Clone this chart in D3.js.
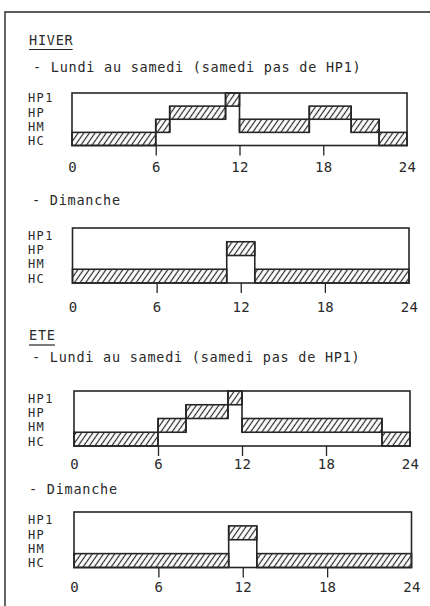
<!DOCTYPE html>
<html><head><meta charset="utf-8">
<script src="https://cdn.jsdelivr.net/npm/d3@7"></script>
<style>
html,body{margin:0;padding:0;background:#fff;}
svg{display:block;}
text{font-family:"DejaVu Sans Mono",monospace;fill:#2a2a2a;}
</style></head>
<body>
<svg id="c" width="430" height="606"></svg>
<script>
// ---- data ----
const levels = ["HC", "HM", "HP", "HP1"];
const hourTicks = [0, 6, 12, 18, 24];
const sectionTitles = ["HIVER", "ETE"];
const panelTitles = ["- Lundi au samedi (samedi pas de HP1)", "- Dimanche",
                     "- Lundi au samedi (samedi pas de HP1)", "- Dimanche"];
const hiverSemaineBreaks = [0, 6, 7, 11, 12, 17, 20, 22, 24];
const hiverSemaineLevels = ["HC", "HM", "HP", "HP1", "HM", "HP", "HM", "HC"];
const hiverDimancheBreaks = [0, 11, 13, 24];
const hiverDimancheLevels = ["HC", "HP", "HC"];
const eteSemaineBreaks = [0, 6, 8, 11, 12, 22, 24];
const eteSemaineLevels = ["HC", "HM", "HP", "HP1", "HM", "HC"];
const eteDimancheBreaks = [0, 11, 13, 24];
const eteDimancheLevels = ["HC", "HP", "HC"];

// ---- layout ----
const svg = d3.select("#c");
const ink = "#262626";
const defs = svg.append("defs");
defs.append("pattern").attr("id", "hatch").attr("patternUnits", "userSpaceOnUse")
  .attr("width", 4.6).attr("height", 5).attr("patternTransform", "rotate(35)")
  .append("line").attr("x1", 2.3).attr("y1", 0).attr("x2", 2.3).attr("y2", 5)
  .attr("stroke", ink).attr("stroke-width", 1.2);

// outer frame (top and left edges visible)
svg.append("path").attr("d", "M5,606 L5,12 L432,12").attr("fill", "none")
  .attr("stroke", ink).attr("stroke-width", 1.4);

const fs = 13.5, ls = 0.75;
function txt(x, y, s, anchor) {
  return svg.append("text").attr("x", x).attr("y", y).attr("font-size", fs)
    .attr("letter-spacing", ls).attr("text-anchor", anchor || "start").text(s);
}

// section titles with underline
const sections = [{x: 29, y: 45, ul: 49.5}, {x: 29, y: 340, ul: 345}];
sections.forEach((s, i) => {
  const t = txt(s.x, s.y, sectionTitles[i]);
  const w = t.node().getComputedTextLength();
  svg.append("line").attr("x1", s.x).attr("x2", s.x + w - ls).attr("y1", s.ul).attr("y2", s.ul)
    .attr("stroke", ink).attr("stroke-width", 1.2);
});

const panels = [
  {title: panelTitles[0], tx: 33, ty: 72, x0: 72, x1: 407, top: 93, bottom: 145.5, lab: 26.5, breaks: hiverSemaineBreaks, lv: hiverSemaineLevels},
  {title: panelTitles[1], tx: 32, ty: 205, x0: 72.5, x1: 409, top: 228, bottom: 283, lab: 29, breaks: hiverDimancheBreaks, lv: hiverDimancheLevels},
  {title: panelTitles[2], tx: 32, ty: 362, x0: 74, x1: 410, top: 391, bottom: 446, lab: 23, breaks: eteSemaineBreaks, lv: eteSemaineLevels},
  {title: panelTitles[3], tx: 29, ty: 494, x0: 74, x1: 411.5, top: 512, bottom: 567.5, lab: 24.5, breaks: eteDimancheBreaks, lv: eteDimancheLevels}
];

panels.forEach(p => {
  txt(p.tx, p.ty, p.title);
  const x = d3.scaleLinear().domain([0, 24]).range([p.x0, p.x1]);
  const y = d3.scaleBand().domain(levels.slice().reverse()).range([p.top, p.bottom]);
  const g = svg.append("g");

  // level labels
  levels.forEach((l, i) => {
    txt(28, p.bottom - 0.5 - i * 14.2, l).attr("font-size", 12).attr("letter-spacing", 1.4);
  });

  // outer box
  g.append("rect").attr("x", x(0)).attr("y", p.top).attr("width", x(24) - x(0))
    .attr("height", p.bottom - p.top).attr("fill", "none").attr("stroke", ink).attr("stroke-width", 1.6);

  const segs = p.lv.map((l, i) => ({l, a: p.breaks[i], b: p.breaks[i + 1]}));
  g.selectAll("rect.seg").data(segs).enter().append("rect").attr("class", "seg")
    .attr("x", d => x(d.a)).attr("width", d => x(d.b) - x(d.a))
    .attr("y", d => y(d.l)).attr("height", y.bandwidth())
    .attr("fill", "url(#hatch)").attr("stroke", ink).attr("stroke-width", 1.6);

  // vertical connectors between consecutive segments
  const conns = segs.slice(1).map((d, i) => ({x: d.a, p: segs[i].l, n: d.l}));
  g.selectAll("line.cn").data(conns).enter().append("line").attr("class", "cn")
    .attr("x1", d => x(d.x)).attr("x2", d => x(d.x))
    .attr("y1", d => Math.min(y(d.p), y(d.n)))
    .attr("y2", d => Math.max(y(d.p), y(d.n)) + y.bandwidth())
    .attr("stroke", ink).attr("stroke-width", 1.6);

  // axis
  const ax = svg.append("g").attr("transform", `translate(0,${p.bottom})`)
    .call(d3.axisBottom(x).tickValues(hourTicks).tickSize(10).tickFormat(d3.format("d")));
  ax.select(".domain").remove();
  ax.selectAll(".tick line").attr("stroke", ink).attr("stroke-width", 1.3)
    .attr("display", d => (d === 0 || d === 24) ? "none" : null);
  ax.selectAll(".tick text").attr("y", p.lab).attr("dy", 0)
    .attr("font-size", 14).attr("font-family", "DejaVu Sans Mono, monospace").attr("fill", "#2a2a2a")
    .attr("letter-spacing", 0.3);
});
</script>
</body></html>
